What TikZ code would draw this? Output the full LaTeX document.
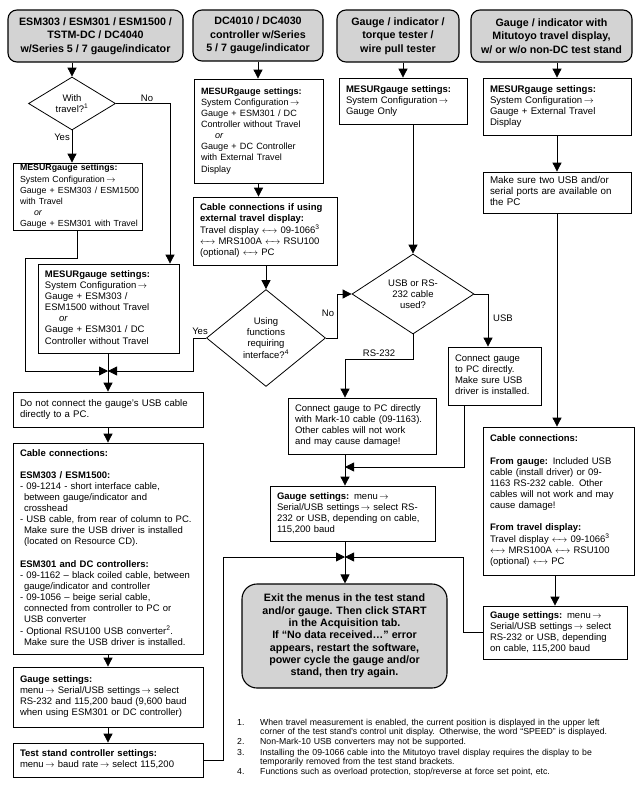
\documentclass[tikz,border=0pt]{standalone}
\usepackage{fontspec}
\setmainfont{Liberation Sans}
\usetikzlibrary{arrows.meta,shapes.geometric}
\definecolor{tgray}{RGB}{211,211,211}
\newcommand\bxfont{\fontsize{9.5}{11.1}\selectfont\setbox\strutbox\hbox{\vrule height 7.9pt depth 3.2pt width 0pt}}
\newcommand\setbx[1]{\fontsize{#1}{11.1}\selectfont}
\newcommand\ttlfont{\fontsize{10.7}{13.4}\selectfont\bfseries}
\newcommand\finfont{\fontsize{10.7}{12.3}\selectfont\bfseries}
\newcommand\fnfont{\fontsize{8.7}{9}\selectfont}
\newcommand\ra{\,$\rightarrow$}
\newcommand\lra{$\leftarrow\!\!\rightarrow$}
\newcommand\rows[1]{\begin{tabular}{@{}l@{}}#1\end{tabular}}
\newcommand\ora{\hspace*{14pt}\textit{or}}
\newcommand\ind{\hspace*{4pt}}
\newcommand\fnitem[2]{\par\noindent\hangindent=23pt\hangafter=1\makebox[23pt][l]{#1}#2\par}
\newcommand\mybox[8]{\node[box, minimum width=#4pt, minimum height=#5pt, text width=#6pt] (#1) at (#2,#3) {\setbx{#7}\rows{#8}};}
\newcommand\mytitle[6]{\node[ttl, minimum width=#4pt, minimum height=#5pt] (#1) at (#2,#3) {#6};}
\tikzset{
  box/.style={draw, line width=0.8pt, inner xsep=7pt, inner ysep=0pt, font=\bxfont, align=left},
  ttl/.style={draw, line width=1.1pt, rounded corners=9pt, fill=tgray, font=\ttlfont, align=center, inner sep=2pt},
  fin/.style={draw, line width=1.1pt, rounded corners=15pt, fill=tgray, font=\finfont, align=center, inner sep=2pt},
  dia/.style={draw, diamond, line width=0.8pt, inner sep=0pt},
  dtxt/.style={font=\bxfont, align=center, inner sep=0pt},
  arr/.style={line width=0.8pt, -{Triangle[length=9pt,width=9pt]}},
  ln/.style={line width=0.8pt},
  lbl/.style={font=\bxfont, inner sep=1pt},
}
\begin{document}
\begin{tikzpicture}[x=1pt,y=-1pt]
\useasboundingbox (0,0) rectangle (638,788);
% titles
\mytitle{tA}{95.5}{36}{175}{52}{ESM303 / ESM301 / ESM1500 /\\TSTM-DC / DC4040\\w/Series 5 / 7 gauge/indicator}
\mytitle{tB}{258}{35.5}{130}{51}{DC4010 / DC4030\\controller w/Series\\5 / 7 gauge/indicator}
\mytitle{tC}{398}{36}{122}{52}{Gauge / indicator /\\torque tester /\\wire pull tester}
\mytitle{tD}{551.5}{36}{161}{52}{Gauge / indicator with\\Mitutoyo travel display,\\w/ or w/o non-DC test stand}
% diamonds
\node[dia, minimum width=87pt, minimum height=53pt] (d1) at (72,103.5) {};
\node[dtxt] (d1t) at (d1) {With\\travel?\textsuperscript{1}};
\node[dia, minimum width=119pt, minimum height=97pt] (d2) at (266,338) {};
\node[dtxt] (d2t) at (d2) {Using\\functions\\requiring\\interface?\textsuperscript{4}};
\node[dia, minimum width=122pt, minimum height=80pt] (d3) at (413,294) {};
\node[dtxt] (d3t) at (d3) {USB or RS-\\232 cable\\used?};
% boxes
\mybox{b1}{77.5}{196.5}{129}{67}{115}{8.8}{\textbf{MESURgauge settings:}\\System Configuration\ra\\Gauge + ESM303 / ESM1500\\with Travel\\\ora\\Gauge + ESM301 with Travel}
\mybox{b2}{108.5}{308.5}{141}{89}{127}{9.5}{\textbf{MESURgauge settings:}\\System Configuration\ra\\Gauge + ESM303 /\\ESM1500 without Travel\\\ora\\Gauge + ESM301 / DC\\Controller without Travel}
\mybox{c}{108}{409.5}{190}{35}{176}{9.6}{Do not connect the gauge’s USB cable\\directly to a PC.}
\mybox{dbox}{108}{548.5}{190}{211}{176}{9.5}{\textbf{Cable connections:}\\ \\\textbf{ESM303 / ESM1500:}\\- 09-1214 - short interface cable,\\\ind between gauge/indicator and\\\ind crosshead\\- USB cable, from rear of column to PC.\\\ind Make sure the USB driver is installed\\\ind (located on Resource CD).\\ \\\textbf{ESM301 and DC controllers:}\\- 09-1162 – black coiled cable, between\\\ind gauge/indicator and controller\\- 09-1056 – beige serial cable,\\\ind connected from controller to PC or\\\ind USB converter\\- Optional RSU100 USB converter\textsuperscript{2}.\\\ind Make sure the USB driver is installed.}
\mybox{e}{108}{697}{190}{60}{176}{9.5}{\textbf{Gauge settings:}\\menu\ra{} Serial/USB settings\ra{} select\\RS-232 and 115,200 baud (9,600 baud\\when using ESM301 or DC controller)}
\mybox{f}{108}{760}{190}{34}{176}{9.5}{\textbf{Test stand controller settings:}\\menu\ra{} baud rate\ra{} select 115,200}
\mybox{i}{258.5}{131}{129}{104}{115}{9.1}{\textbf{MESURgauge settings:}\\System Configuration\ra\\Gauge + ESM301 / DC\\Controller without Travel\\\ora\\Gauge + DC Controller\\with External Travel\\Display}
\mybox{j}{265}{231}{144}{68}{130}{9.5}{\textbf{Cable connections if using}\\\textbf{external travel display:}\\Travel display \lra{} 09-1066\textsuperscript{3}\\\lra{} MRS100A \lra{} RSU100\\(optional) \lra{} PC}
\mybox{l}{403}{101}{128}{46}{114}{9.5}{\textbf{MESURgauge settings:}\\System Configuration\ra\\Gauge Only}
\mybox{n}{557}{106.5}{148}{57}{134}{9.6}{\textbf{MESURgauge settings:}\\System Configuration\ra\\Gauge + External Travel\\Display}
\mybox{o}{557}{192.5}{148}{41}{134}{9.8}{Make sure two USB and/or\\serial ports are available on\\the PC}
\mybox{p}{558.5}{501}{151}{148}{137}{9.5}{\textbf{Cable connections:}\\ \\\textbf{From gauge:} Included USB\\cable (install driver) or 09-\\1163 RS-232 cable. Other\\cables will not work and may\\cause damage!\\ \\\textbf{From travel display:}\\Travel display \lra{} 09-1066\textsuperscript{3}\\\lra{} MRS100A \lra{} RSU100\\(optional) \lra{} PC}
\mybox{q}{555}{632.5}{144}{53}{130}{9.5}{\textbf{Gauge settings:} menu\ra\\Serial/USB settings\ra{} select\\RS-232 or USB, depending\\on cable, 115,200 baud}
\mybox{g}{352.5}{513.5}{165}{55}{151}{9.5}{\textbf{Gauge settings:} menu\ra\\Serial/USB settings\ra{} select RS-\\232 or USB, depending on cable,\\115,200 baud}
\mybox{rs}{362}{426}{148}{56}{134}{9.5}{Connect gauge to PC directly\\with Mark-10 cable (09-1163).\\Other cables will not work\\and may cause damage!}
\mybox{usb}{494.5}{376}{93}{58}{79}{9.5}{Connect gauge\\to PC directly.\\Make sure USB\\driver is installed.}
\node[fin, minimum width=205pt, minimum height=104pt] (h) at (344.5,636) {Exit the menus in the test stand\\and/or gauge. Then click START\\in the Acquisition tab.\\If “No data received…” error\\appears, restart the software,\\power cycle the gauge and/or\\stand, then try again.};
% junctions and bends
\coordinate (m1) at (108,371);
\coordinate (m2) at (345,467);
\coordinate (m3) at (345,557);
\coordinate (k1) at (25,258);
\coordinate (k2) at (193,338);
\coordinate (k3) at (337,338);
\coordinate (k4) at (170,103.5);
\coordinate (k5) at (488,294);
\coordinate (k6) at (345,359);
\coordinate (k7) at (464,467);
\coordinate (k8) at (223,557);
\coordinate (k9) at (463,557);
% connectors
\draw[arr] (d1.north |- tA.south) -- (d1.north);
\draw[arr] (d1.south) -- (d1.south |- b1.north);
\draw[arr] (d1.east) -| (k4 |- b2.north);
\draw[arr] (b1.south) |- (k1) |- (m1);
\draw[ln] (m1 |- b2.south) -- (m1);
\draw[arr] (d2.west) -- (k2) |- (m1);
\draw[arr] (m1) -- (m1 |- c.north);
\draw[arr] (c.south) -- (dbox.north);
\draw[arr] (dbox.south) -- (e.north);
\draw[arr] (e.south) -- (f.north);
\draw[arr] (tB.south) -- (tB.south |- i.north);
\draw[arr] (i.south) -- (i.south |- j.north);
\draw[arr] (d2.north |- j.south) -- (d2.north);
\draw[arr] (d2.east) -- (k3) |- (d3.west);
\draw[arr] (l.north |- tC.south) -- (l.north);
\draw[arr] (d3.north |- l.south) -- (d3.north);
\draw[arr] (d3.east) -| (k5 |- usb.north);
\draw[arr] (d3.south) |- (k6) -- (k6 |- rs.north);
\draw[ln] (m2 |- rs.south) -- (m2);
\draw[arr] (k7 |- usb.south) -- (k7) -- (m2);
\draw[arr] (m2) -- (m2 |- g.north);
\draw[ln] (m3 |- g.south) -- (m3);
\draw[arr] (f.east) -| (k8) -- (m3);
\draw[arr] (q.west) -| (k9) -- (m3);
\draw[arr] (m3) -- (m3 |- h.north);
\draw[arr] (n.north |- tD.south) -- (n.north);
\draw[arr] (n.south) -- (o.north);
\draw[arr] (o.south) -- (o.south |- p.north);
\draw[arr] (q.north |- p.south) -- (q.north);
% labels
\node[lbl] (lno1) at (147,98) {No};
\node[lbl] (lyes1) at (62,137) {Yes};
\node[lbl] (lyes2) at (200,331) {Yes};
\node[lbl] (lno2) at (328,313) {No};
\node[lbl] (lusb) at (503,318) {USB};
\node[lbl] (lrs) at (379,353) {RS-232};
% footnotes
\node[anchor=north west, inner sep=0pt, text width=381pt, font=\fnfont] (fn) at (237,715) {\setlength\parskip{1.3pt}%
\fnitem{1.}{When travel measurement is enabled, the current position is displayed in the upper left\linebreak corner of the test stand’s control unit display. Otherwise, the word “SPEED” is displayed.}%
\fnitem{2.}{Non-Mark-10 USB converters may not be supported.}%
\fnitem{3.}{Installing the 09-1066 cable into the Mitutoyo travel display requires the display to be\linebreak temporarily removed from the test stand brackets.}%
\fnitem{4.}{Functions such as overload protection, stop/reverse at force set point, etc.}};
\end{tikzpicture}
\end{document}
